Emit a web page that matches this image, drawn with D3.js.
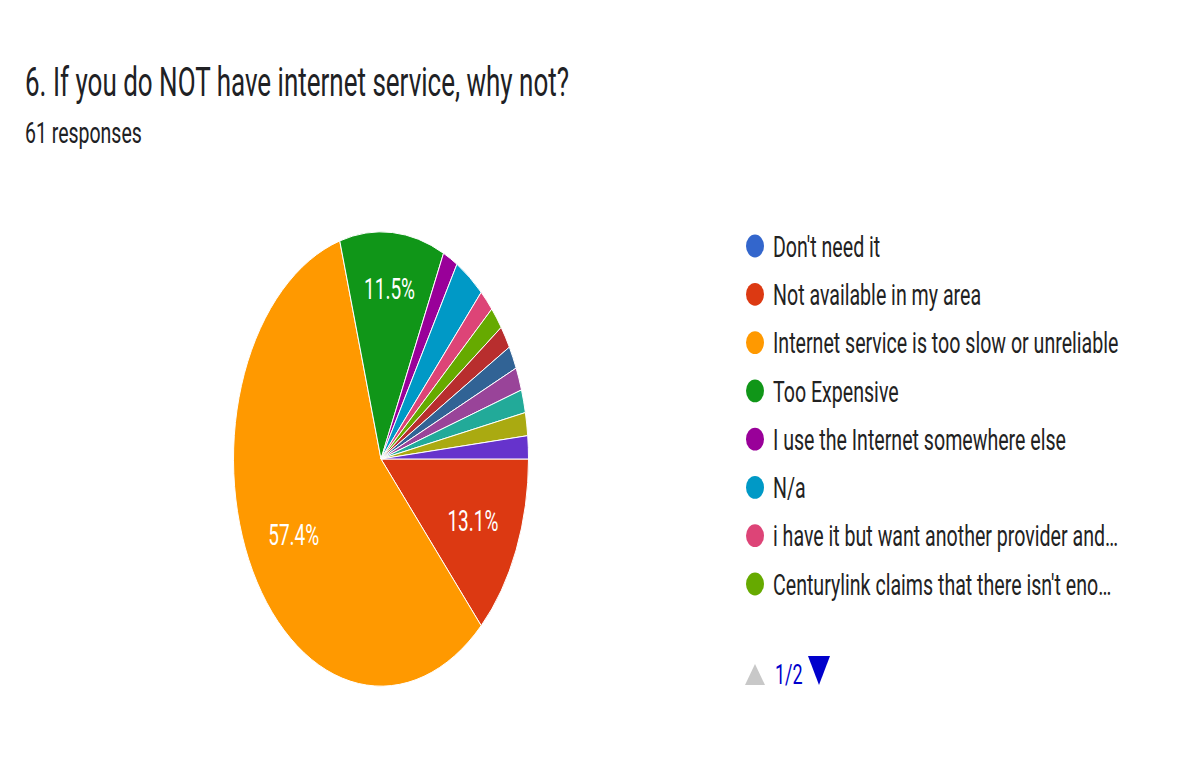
<!DOCTYPE html>
<html>
<head>
  <meta charset="utf-8">
  <script src="https://d3js.org/d3.v7.min.js"></script>
  <style>
    body { margin: 0; background: #fff; }
    text { font-family: Roboto, "Liberation Sans", sans-serif; }
  </style>
</head>
<body>
  <div id="chart"></div>
  <script>
    // survey answers, in legend order (page 2 of legend is not visible in source)
    var answers = [
      "Don't need it",
      "Not available in my area",
      "Internet service is too slow or unreliable",
      "Too Expensive",
      "I use the Internet somewhere else",
      "N/a",
      "i have it but want another provider and…",
      "Centurylink claims that there isn't eno…",
      "Other answer 9", "Other answer 10", "Other answer 11",
      "Other answer 12", "Other answer 13", "Other answer 14"
    ];
    var counts = [0, 8, 35, 7, 1, 2, 1, 1, 1, 1, 1, 1, 1, 1];
    var colors = ["#3366cc", "#dc3912", "#ff9900", "#109618", "#990099", "#0099c6", "#dd4477",
      "#66aa00", "#b82e2e", "#316395", "#994499", "#22aa99", "#aaaa11", "#6633cc"];
    var legendPage = 8; // items shown on the first legend page

    var title = "6. If you do NOT have internet service, why not?";
    var subtitle = "61 responses";

    // the screenshot is stretched vertically, so draw in a squashed space and scale up
    var stretch = 1.54;
    var W = 1200, H = 759;

    var svg = d3.select("#chart").append("svg")
      .attr("width", W)
      .attr("height", H);

    var g = svg.append("g")
      .attr("transform", "scale(1," + stretch + ")");

    g.append("text")
      .attr("x", 25)
      .attr("y", 96 / stretch)
      .style("font-size", "26px")
      .style("fill", "#202124")
      .text(title);

    g.append("text")
      .attr("x", 25)
      .attr("y", 143 / stretch)
      .style("font-size", "19.5px")
      .style("fill", "#202124")
      .text(subtitle);

    // pie
    var radius = 147.5;
    var cx = 381, cy = 459 / stretch;
    var total = d3.sum(counts);

    var pie = d3.pie()
      .sort(null)
      .value(function (d) { return d; })
      .startAngle(Math.PI / 2)
      .endAngle(Math.PI / 2 + 2 * Math.PI);

    var arc = d3.arc().innerRadius(0).outerRadius(radius);
    var arcs = pie(counts);

    var pieG = g.append("g")
      .attr("transform", "translate(" + cx + "," + cy + ")");

    pieG.selectAll("path")
      .data(arcs.filter(function (d) { return d.value > 0; }))
      .enter()
      .append("path")
      .attr("d", arc)
      .attr("fill", function (d) { return colors[d.index]; })
      .attr("stroke", "#fff")
      .attr("stroke-width", 1)
      .attr("vector-effect", "non-scaling-stroke");

    // percentage labels for the larger slices
    var labels = pieG.selectAll("text.pct")
      .data(arcs.filter(function (d) { return d.value / total > 0.05; }))
      .enter()
      .append("text")
      .attr("class", "pct")
      .attr("text-anchor", "middle")
      .attr("dominant-baseline", "central")
      .style("font-size", "19px")
      .style("fill", "#fff")
      .text(function (d) { return (d.value / total * 100).toFixed(1) + "%"; });

    labels.attr("transform", function (d) {
      var w = this.getComputedTextLength();
      var span = d.endAngle - d.startAngle;
      var rr = Math.max(radius * 0.68, (w + 27) / (2 * Math.sin(Math.min(span, Math.PI) / 2)));
      var a = (d.startAngle + d.endAngle) / 2;
      return "translate(" + (Math.sin(a) * rr) + "," + (-Math.cos(a) * rr) + ")";
    });

    // legend
    var legY = d3.scalePoint()
      .domain(d3.range(legendPage))
      .range([246 / stretch, 584 / stretch]);

    var leg = g.selectAll("g.leg")
      .data(answers.slice(0, legendPage))
      .enter()
      .append("g")
      .attr("class", "leg")
      .attr("transform", function (d, i) { return "translate(755," + legY(i) + ")"; });

    leg.append("ellipse")
      .attr("rx", 9)
      .attr("ry", 7.4)
      .attr("fill", function (d, i) { return colors[i]; });

    leg.append("text")
      .attr("x", 18)
      .attr("dominant-baseline", "central")
      .style("font-size", "19.6px")
      .style("fill", "#222")
      .text(function (d) { return d; });

    // pager
    var pager = g.append("g");
    pager.append("path")
      .attr("d", d3.line()([[745, 685 / stretch], [755, 664 / stretch], [765, 685 / stretch]]))
      .attr("fill", "#c8c8c8");
    pager.append("text")
      .attr("x", 775)
      .attr("y", 684 / stretch)
      .style("font-size", "18px")
      .style("fill", "#0000cc")
      .text("1/2");
    pager.append("path")
      .attr("d", d3.line()([[808, 656 / stretch], [830, 656 / stretch], [819, 685 / stretch]]))
      .attr("fill", "#0000cc");
  </script>
</body>
</html>
